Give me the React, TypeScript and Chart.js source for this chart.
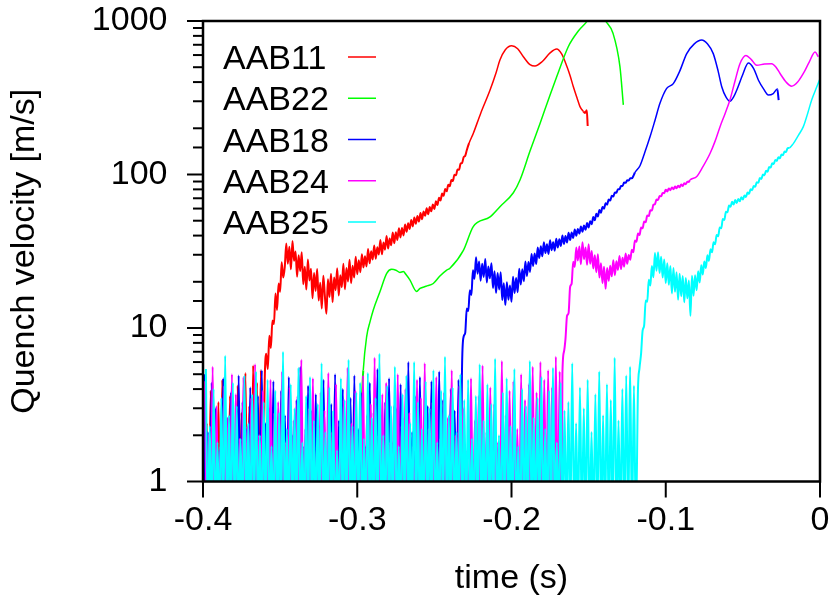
import React, { useEffect, useRef } from 'react';
import { Chart, registerables } from 'chart.js';

Chart.register(...registerables);

const FONT = '"Liberation Sans", Arial, Helvetica, sans-serif';

const seriesLabels = ['AAB11', 'AAB22', 'AAB18', 'AAB24', 'AAB25'];
const seriesColors = ['#ff0000', '#00ff00', '#0000ff', '#ff00ff', '#00ffff'];

const xTickValues = [-0.4, -0.3, -0.2, -0.1, 0];

const NOISE_STEP = 0.0025;
const NOISE_FLOOR = 0.5;
const FUZZ_STEP = 0.001;

// ---- AAB11 (red)
const aab11NoiseStart = -0.4;
const aab11Noise = [4.8, 2.4, 3.9, 1.7, 3.3, 4.6, 2.2, 3.6, 1.9, 4.2, 2.8, 5.1, 3.1, 5.7, 4.4, 5.3];
const aab11FuzzStart = -0.36;
const aab11Fuzz = [
  4.5, 6.8, 5.4, 8.9, 7.4, 11.2, 10.6, 16.8, 13.1, 19.5, 17.2, 26.8, 21.3, 24.9, 35.5, 26.2, 33.8, 24.1, 36.9, 27.4,
  31.5, 21.6, 29.8, 23.5, 31.2, 19.3, 25.1, 17.8, 27.9, 20.4, 24.3, 15.6, 22.8, 17.4, 24.2, 15.1, 19.7, 13.4, 21.9, 16.2,
  12.4, 20.8, 15.9, 22.6, 14.7, 21.3, 17.6, 24.5, 16.3, 22.1, 18.4, 26.2, 17.9, 24.6, 20.1, 27.8, 19.6, 25.4, 21.3, 29.1,
  22.4, 27.6, 23.1, 30.2, 24.8, 29.3, 25.2, 32.7, 26.4, 31.6, 27.9, 34.5, 28.3, 33.6, 30.1, 37.4, 30.2, 36.1, 32.4, 39.8,
  32.9, 38.3, 34.6, 41.9, 35.7, 42.1, 37.5, 44.6, 38.9, 44.8, 40.1, 47.2, 42.3, 48.1, 44.2, 50.6, 45.9, 52.4, 47.8, 53.7,
  49.4, 56.1, 51.2, 57.3, 53.8, 60.2, 55.1, 61.4, 57.6, 63.8, 59.5, 66.9, 63.2, 70.5, 67.8, 75.1, 72.6, 80.4, 77.7, 85.9,
  83.8, 92.1, 90.6, 99.8, 98.7, 107.9, 107.4, 117.6, 119.1, 129.8, 132.5, 144,
];
const aab11T = [-0.2275, -0.2248, -0.22, -0.2139, -0.21, -0.2075, -0.204, -0.1999, -0.196, -0.1923, -0.188, -0.1848, -0.18, -0.175, -0.1707, -0.1675, -0.1642, -0.162, -0.1599, -0.1575, -0.1556, -0.1535, -0.1524, -0.1512, -0.1506];
const aab11V = [160, 185, 250, 355, 460, 557, 650, 690, 660, 585, 520, 509, 545, 620, 657, 610, 509, 440, 373, 315, 277, 258, 252, 262, 207];

// ---- AAB22 (green)
const aab22T = [-0.2995, -0.2976, -0.2961, -0.2939, -0.2917, -0.2896, -0.2853, -0.2809, -0.2777, -0.2749, -0.2723, -0.2701, -0.2684, -0.2658, -0.2615, -0.2593, -0.2554, -0.2507, -0.2464, -0.242, -0.2399, -0.2312, -0.2248, -0.2139, -0.2075, -0.1988, -0.1945, -0.188, -0.1815, -0.175, -0.1707, -0.1632, -0.1567, -0.1512, -0.1452, -0.1387, -0.1342, -0.1297, -0.1275];
const aab22V = [0.9, 2.5, 5.3, 8.8, 11, 13.1, 17.2, 22.7, 24.1, 23.8, 23, 23.3, 22.3, 20.5, 17.3, 18.1, 18.7, 19.5, 21.8, 23.8, 24.5, 32, 45.7, 53, 61.7, 76, 92, 142, 215, 330, 433, 680, 860, 990, 1250, 990, 832, 504, 284];

// ---- AAB18 (blue)
const aab18NoiseStart = -0.399375;
const aab18Noise = [
  5.0, 2.1, 4.4, 3.0, 1.6, 4.7, 2.6, 3.8, 1.9, 4.9, 3.3, 2.2, 4.1, 1.5, 3.6, 5.3, 2.4, 3.0, 4.5, 1.8,
  3.9, 2.7, 4.8, 2.0, 3.4, 5.6, 1.7, 4.2, 2.9, 3.7, 2.3, 4.6, 1.6, 3.2, 5.0, 2.5, 4.0, 1.9, 3.5, 4.9,
  2.2, 3.8, 1.7, 4.4, 2.8, 5.4, 2.0, 3.3, 4.7, 1.8, 3.0, 4.3, 2.6, 6.0, 2.1, 3.6, 4.8, 1.9, 3.1, 4.5,
  2.4, 5.2, 3.4, 1.7, 4.0, 2.9, 4.6,
];
const aab18FuzzStart = -0.232;
const aab18Fuzz = [
  6, 8.8, 9.3, 13.4, 12.9, 17.6, 16.4, 23.8, 20.9, 28.9, 22.6, 27.1, 20.3, 26.2, 21.5, 28.1, 19.8, 25.2, 21.1, 26.4,
  18.2, 23.4, 16.9, 22.8, 17.8, 23.1, 15.2, 19.6, 14.1, 19.9, 15.3, 18.9, 14.8, 21.6, 16.9, 21.2, 17.1, 24.3, 19.2, 24.1,
  20.2, 27.1, 21.8, 26.9, 23.2, 30.4, 25.3, 30.6, 26.1, 33.4, 28.6, 34.1, 29.3, 36.2, 30.8, 35.1, 30.4, 37.3, 32.1, 36.2,
  31.9, 38.1, 33.4, 37.8, 34.2, 40.1, 35.3, 39.7, 36.1, 41.8, 37.4, 41.9, 38.6, 43.8, 39.9, 44.1, 41.2, 45.9, 42.3, 46.5,
  43.6, 48.4, 45.1, 49.6, 47.5, 52.9, 50.3, 55.4, 53.2, 58.7, 56.4, 61.5, 59.8, 64.9, 63.6, 68.8, 67.7, 72.6, 71.8, 76.4,
  76.1, 80.3, 80.1, 84.2, 84.1, 88.6, 88.2, 91.7, 91.3, 94.6, 94.4, 97.8, 103,
];
const aab18T = [-0.1167, -0.1135, -0.1102, -0.107, -0.1037, -0.0994, -0.0951, -0.091, -0.0864, -0.0815, -0.0767, -0.073, -0.0692, -0.066, -0.0637, -0.061, -0.0584, -0.056, -0.054, -0.05, -0.0465, -0.043, -0.0399, -0.0365, -0.0335, -0.0303, -0.0277, -0.0268];
const aab18V = [114, 140, 176, 225, 292, 364, 391, 470, 613, 710, 752, 710, 613, 470, 373, 320, 300, 320, 354, 450, 533, 490, 411, 360, 330, 337, 360, 305];

// ---- AAB24 (magenta)
const aab24NoiseStart = -0.39875;
const aab24Noise = [
  4.5, 2.0, 5.6, 3.1, 1.7, 4.2, 2.6, 5.0, 3.7, 1.9, 4.8, 2.3, 3.5, 5.8, 2.0, 3.9, 1.6, 4.6, 2.8, 3.3,
  5.2, 1.8, 4.1, 2.5, 3.6, 6.2, 2.2, 3.0, 4.7, 1.7, 3.8, 2.9, 5.1, 2.1, 4.3, 1.9, 3.4, 5.5, 2.4, 3.9,
  1.6, 4.9, 2.7, 3.2, 6.4, 2.0, 3.7, 4.4, 1.8, 3.1, 5.0, 2.3, 4.0, 2.8, 1.7, 4.6, 3.5, 5.9, 2.2, 3.3,
  4.8, 1.9, 3.8, 2.6, 5.3, 2.0, 4.2, 3.0, 1.6, 4.7, 2.5, 3.6, 5.7, 2.1, 4.1, 3.2, 1.8, 6.1, 2.7, 3.9,
  4.5, 2.2, 5.0, 3.4, 4.3, 5.6, 3.8, 6.0, 4.6, 5.3, 4.1, 6.5, 5.2,
];
const aab24FuzzStart = -0.167;
const aab24Fuzz = [
  5, 7, 8.5, 12, 12.5, 18.5, 19.5, 27, 25, 33.5, 27.5, 34, 26, 36.2, 28.1, 33.4, 25.8, 35.1, 26.2, 31.7,
  24.4, 29.8, 23.1, 30.2, 21.3, 26.4, 19.6, 25.1, 18, 24.6, 20.3, 25.4, 21.7, 27.6, 22.1, 27.2, 23.9, 29.4, 24.2, 28.7,
  25.1, 30.6, 26.2, 29.9, 27.8, 32.4, 31.2, 37.1, 36.4, 41.2, 40.3, 45.1, 44.6, 49.5, 48.9, 54.1, 53.6, 58.4, 58.2, 63.5,
  64.1, 68.7, 68.3, 72.4, 72.1, 75.8, 75.6, 79.7, 77.6, 81.2, 79.1, 82.4, 80.3, 83.5, 81.4, 84.6, 82.7, 86.1, 84.2, 87.6,
  86.5, 89.7, 89.5,
];
const aab24T = [-0.0843, -0.0799, -0.076, -0.0713, -0.068, -0.0648, -0.0615, -0.0584, -0.055, -0.0519, -0.048, -0.0445, -0.041, -0.036, -0.0313, -0.0285, -0.0259, -0.022, -0.0184, -0.0145, -0.0108, -0.007, -0.0032, -0.0011];
const aab24V = [92, 97, 112, 137, 165, 205, 250, 306, 410, 527, 596, 560, 514, 525, 527, 500, 455, 400, 376, 400, 455, 540, 627, 585];

// ---- AAB25 (cyan)
const aab25NoiseStart = -0.398125;
const aab25Noise = [
  5.4, 2.3, 4.0, 1.8, 3.5, 6.6, 2.7, 4.4, 3.1, 1.9, 4.9, 2.4, 3.7, 5.2, 2.0, 3.3, 4.6, 1.7, 3.9, 2.8,
  7.0, 2.2, 4.3, 3.0, 5.5, 1.8, 3.6, 4.8, 2.5, 3.2, 5.9, 2.1, 4.1, 2.9, 1.6, 4.7, 3.4, 6.2, 2.3, 3.8,
  4.4, 1.9, 5.1, 2.6, 3.5, 6.8, 2.0, 4.2, 3.1, 5.6, 1.7, 3.7, 4.9, 2.4, 6.0, 3.3, 2.2, 4.5, 3.0, 5.3,
  1.8, 3.9, 6.5, 2.7, 4.1, 2.1, 5.0, 3.4, 4.6, 1.9, 3.6, 5.8, 2.5, 4.3, 3.2, 6.3, 2.0, 3.8, 4.7, 2.3,
  5.4, 1.7, 4.0, 3.1, 6.1, 2.6, 3.5, 4.8, 2.2, 3.9, 5.5, 1.8, 4.4, 2.9, 3.3, 5.9, 2.4, 4.1, 3.0, 4.6,
  2.1, 3.7, 5.2, 2.7, 4.3, 3.4, 6.4, 2.5, 4.0, 4.9, 5.6, 4.2,
];
const aab25FuzzStart = -0.118;
const aab25Fuzz = [
  4, 5.5, 6.8, 9.6, 10.4, 15.1, 14.8, 20.6, 18.9, 25.3, 21.4, 30.8, 23.6, 31.2, 22.8, 29.1, 21.3, 27.9, 19.6, 26.4,
  19.1, 25.3, 16.8, 24.6, 17.2, 23.1, 15.3, 22.6, 16.1, 21.8, 14.7, 21.2, 15.6, 20.4, 12, 21.9, 16.2, 22.1, 17.6, 23.4,
  19.8, 25.6, 22.3, 27.1, 24.6, 29.8, 27.4, 32.6, 31.1, 36.2, 35.1, 40.3, 39.6, 45.2, 44.7, 51.3, 50.6, 57.1, 56.8, 62.9,
  61.7, 66.4, 63.8, 68.1, 65.2, 69.3, 66.9, 71.2, 68.7, 73.1, 71.4, 76.2, 74.8, 80.1, 78.9, 84.2, 83.1, 89.1, 88.2, 94.8,
  93.6, 99.9, 98.8, 105.6, 104.2, 111.7, 110.9, 118.4, 117.2, 124.5, 122.6, 129.7, 127.4, 134.8, 133.6, 141.2, 140.3, 148.5, 149,
];
const aab25T = [-0.0173, -0.014, -0.0108, -0.008, -0.0054, -0.0022, 0];
const aab25V = [159, 180, 205, 250, 306, 370, 420];

type Pt = { x: number; y: number };

function buildSeries(
  noiseStart: number | null,
  noise: number[],
  fuzzStart: number | null,
  fuzz: number[],
  t: number[],
  v: number[]
): Pt[] {
  const pts: Pt[] = [];
  if (noiseStart !== null) {
    noise.forEach((h, i) => {
      const x = noiseStart + i * NOISE_STEP;
      pts.push({ x, y: h });
      pts.push({ x: x + NOISE_STEP / 2, y: NOISE_FLOOR });
    });
  }
  if (fuzzStart !== null) {
    fuzz.forEach((val, i) => pts.push({ x: fuzzStart + i * FUZZ_STEP, y: val }));
  }
  t.forEach((tt, i) => pts.push({ x: tt, y: v[i] }));
  return pts;
}

const seriesData: Pt[][] = [
  buildSeries(aab11NoiseStart, aab11Noise, aab11FuzzStart, aab11Fuzz, aab11T, aab11V),
  buildSeries(null, [], null, [], aab22T, aab22V),
  buildSeries(aab18NoiseStart, aab18Noise, aab18FuzzStart, aab18Fuzz, aab18T, aab18V),
  buildSeries(aab24NoiseStart, aab24Noise, aab24FuzzStart, aab24Fuzz, aab24T, aab24V),
  buildSeries(aab25NoiseStart, aab25Noise, aab25FuzzStart, aab25Fuzz, aab25T, aab25V),
];

const isDecade = (v: number) => {
  const l = Math.log10(v);
  return Math.abs(l - Math.round(l)) < 1e-9;
};

const decorPlugin = {
  id: 'decor',
  afterDatasetsDraw(chart: any) {
    const { ctx, chartArea: a, scales } = chart;
    const xs = scales.x;
    const ys = scales.y;
    ctx.save();
    ctx.strokeStyle = '#000';
    ctx.lineWidth = 2;
    ys.ticks.forEach((tk: any) => {
      const p = ys.getPixelForValue(tk.value);
      const len = isDecade(tk.value) ? 16 : 10;
      ctx.beginPath();
      ctx.moveTo(a.left - len, p);
      ctx.lineTo(a.left, p);
      ctx.stroke();
    });
    xTickValues.forEach((v) => {
      const p = xs.getPixelForValue(v);
      ctx.beginPath();
      ctx.moveTo(p, a.bottom);
      ctx.lineTo(p, a.bottom + 16);
      ctx.stroke();
    });
    ctx.lineWidth = 2.5;
    ctx.strokeRect(a.left, a.top, a.right - a.left, a.bottom - a.top);

    // legend (text then sample line, gnuplot style)
    ctx.font = `34px ${FONT}`;
    ctx.textAlign = 'left';
    ctx.textBaseline = 'alphabetic';
    chart.data.datasets.forEach((ds: any, i: number) => {
      const cy = a.top + 36 + i * 41.25;
      ctx.fillStyle = '#000';
      ctx.fillText(ds.label, a.left + 20, cy + 12.2);
      ctx.strokeStyle = ds.borderColor;
      ctx.lineWidth = 1.5;
      ctx.beginPath();
      ctx.moveTo(a.left + 145, cy);
      ctx.lineTo(a.left + 173, cy);
      ctx.stroke();
    });
    ctx.restore();
  },
};

const zeroPadding = (scale: any) => {
  scale.paddingTop = 0;
  scale.paddingBottom = 0;
  scale.paddingLeft = 0;
  scale.paddingRight = 0;
};

export default function App() {
  const ref = useRef<HTMLCanvasElement>(null);
  useEffect(() => {
    if (!ref.current) return;
    const datasets = seriesLabels.map((label, i) => ({
      label,
      data: seriesData[i],
      borderColor: seriesColors[i],
      backgroundColor: seriesColors[i],
      borderWidth: 1.5,
      pointRadius: 0,
      fill: false,
      cubicInterpolationMode: 'monotone' as const,
      order: seriesLabels.length - i,
      segment: {
        // densely sampled (noisy) stretches are drawn slightly heavier
        borderWidth: (c: any) => (Math.abs(c.p1.x - c.p0.x) < 2.5 ? 2 : 1.5),
      },
    }));
    const chart = new Chart(ref.current, {
      type: 'line',
      data: { datasets },
      options: {
        animation: false,
        responsive: false,
        devicePixelRatio: 1,
        parsing: false,
        normalized: true,
        layout: { padding: { top: 21, right: 15, left: 0, bottom: 0 } },
        plugins: {
          legend: { display: false },
          tooltip: { enabled: false },
        },
        scales: {
          x: {
            type: 'linear',
            min: -0.4,
            max: 0,
            grid: { display: false, drawTicks: false },
            border: { display: false },
            afterBuildTicks: (scale: any) => {
              scale.ticks = xTickValues.map((v) => ({ value: v }));
            },
            ticks: {
              autoSkip: false,
              maxRotation: 0,
              padding: 19,
              color: '#000',
              font: { family: FONT, size: 34 },
              callback: (v: any) => String(Math.round(Number(v) * 10) / 10),
            },
            title: {
              display: true,
              text: 'time (s)',
              color: '#000',
              font: { family: FONT, size: 34 },
              padding: { top: 0, bottom: 7.6 },
            },
            afterFit: (scale: any) => {
              scale.height = 125.5;
              zeroPadding(scale);
            },
          },
          y: {
            type: 'logarithmic',
            min: 1,
            max: 1000,
            grid: { display: false, drawTicks: false },
            border: { display: false },
            ticks: {
              autoSkip: false,
              padding: 35.5,
              color: '#000',
              font: { family: FONT, size: 34 },
              callback: (v: any) => (isDecade(Number(v)) ? String(Math.round(Number(v))) : ''),
            },
            title: {
              display: true,
              text: 'Quench velocity [m/s]',
              color: '#000',
              font: { family: FONT, size: 34 },
              padding: { top: 4.6, bottom: 0 },
            },
            afterFit: (scale: any) => {
              scale.width = 203;
              zeroPadding(scale);
            },
          },
        },
      },
      plugins: [decorPlugin],
    });
    return () => chart.destroy();
  }, []);
  return (
    <div style={{ position: 'fixed', left: 0, top: 0, width: 835, height: 607, background: '#fff' }}>
      <canvas ref={ref} width={835} height={607} style={{ display: 'block', width: 835, height: 607 }} />
    </div>
  );
}
